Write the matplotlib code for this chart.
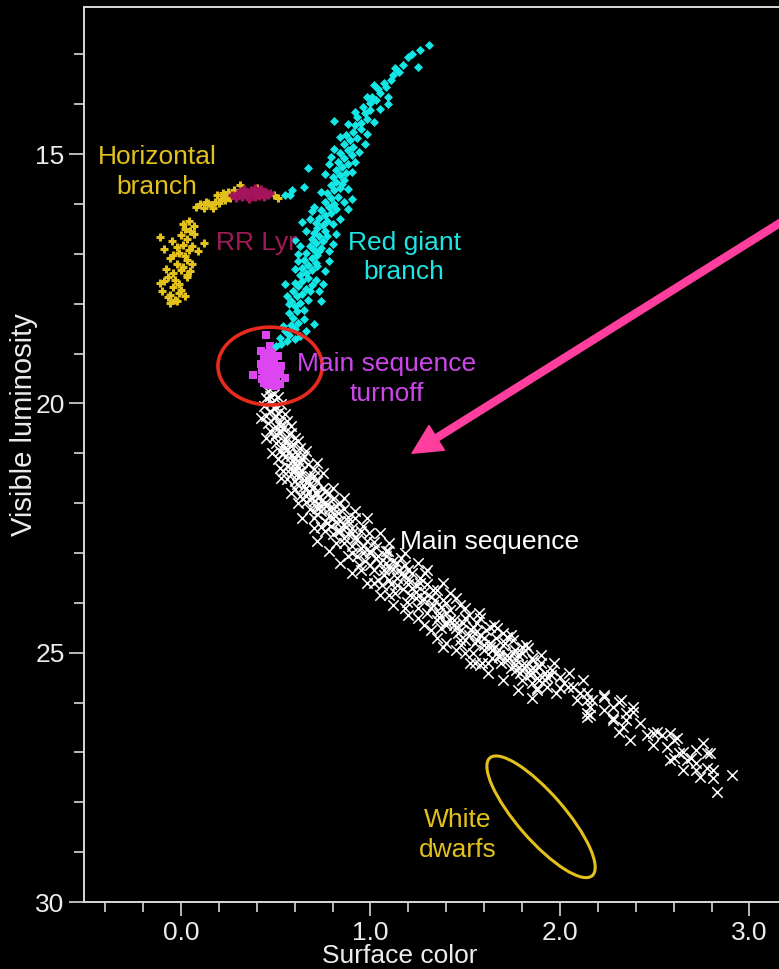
import numpy as np
import matplotlib
matplotlib.use("Agg")
import matplotlib.pyplot as plt
from matplotlib.patches import Ellipse, FancyArrowPatch, ArrowStyle
import matplotlib.transforms as mtransforms

# ---------------- data: (surface color, visible magnitude) ----------------
main_sequence = [
    (0.46, 19.75), (0.49, 19.82), (0.45, 19.90), (0.51, 19.88), (0.48, 19.98), (0.44, 20.05),
    (0.50, 20.08), (0.53, 20.02), (0.47, 20.15), (0.51, 20.20), (0.45, 20.25), (0.55, 20.22),
    (0.49, 20.30), (0.52, 20.38), (0.46, 20.40), (0.56, 20.35), (0.50, 20.48), (0.54, 20.50),
    (0.47, 20.55), (0.58, 20.45),
    (0.52, 20.60), (0.57, 20.62), (0.49, 20.68), (0.55, 20.72), (0.60, 20.70), (0.50, 20.80),
    (0.54, 20.85), (0.59, 20.82), (0.63, 20.90), (0.52, 20.95), (0.57, 20.98), (0.61, 21.02),
    (0.55, 21.08), (0.65, 21.05), (0.51, 21.12), (0.59, 21.15), (0.63, 21.20), (0.56, 21.25),
    (0.67, 21.22), (0.60, 21.30), (0.54, 21.35), (0.64, 21.35), (0.70, 21.32), (0.58, 21.42),
    (0.62, 21.48), (0.68, 21.45), (0.56, 21.52), (0.66, 21.58), (0.72, 21.55), (0.61, 21.62),
    (0.65, 21.65), (0.70, 21.68), (0.60, 21.72), (0.75, 21.70), (0.67, 21.78), (0.63, 21.85),
    (0.72, 21.82), (0.78, 21.80), (0.69, 21.90), (0.74, 21.95), (0.66, 21.98), (0.80, 21.92),
    (0.71, 22.05), (0.77, 22.02), (0.84, 22.00), (0.68, 22.12), (0.74, 22.15), (0.80, 22.10),
    (0.86, 22.12), (0.72, 22.22), (0.78, 22.25), (0.83, 22.20), (0.70, 22.30), (0.88, 22.28),
    (0.76, 22.35), (0.82, 22.38), (0.92, 22.30), (0.79, 22.45), (0.86, 22.42), (0.74, 22.48),
    (0.90, 22.50), (0.83, 22.55), (0.96, 22.45), (0.80, 22.62), (0.88, 22.62),
    (0.86, 22.80), (0.92, 22.70), (0.95, 22.90), (0.90, 23.00), (0.98, 22.75), (1.00, 23.00),
    (0.97, 23.15), (1.03, 22.88), (1.05, 23.20), (1.02, 23.35), (1.08, 23.05), (1.10, 23.30),
    (1.07, 23.45), (1.12, 23.15), (1.14, 23.50), (1.15, 23.35), (1.11, 23.62), (1.18, 23.25),
    (1.20, 23.55), (1.17, 23.72), (1.22, 23.40), (1.24, 23.65), (1.21, 23.85), (1.26, 23.50),
    (1.28, 23.78), (1.27, 23.95), (1.30, 23.62), (1.32, 23.88), (1.25, 24.10), (1.33, 24.05),
    (0.94, 23.25), (1.04, 23.55), (0.99, 22.60), (1.09, 22.95), (1.16, 23.10), (1.13, 23.80),
    (1.19, 23.98), (1.06, 23.65), (1.29, 23.40), (1.35, 23.75),
    (1.36, 24.20), (1.38, 23.95), (1.40, 24.45), (1.42, 24.15), (1.44, 24.35), (1.46, 24.60),
    (1.47, 24.05), (1.49, 24.40), (1.50, 24.75), (1.52, 24.25), (1.53, 24.55), (1.55, 24.80),
    (1.56, 24.40), (1.58, 24.65), (1.60, 24.95), (1.61, 24.55), (1.63, 24.80), (1.64, 25.10),
    (1.66, 24.70), (1.68, 24.95), (1.69, 25.20), (1.71, 24.80), (1.72, 25.05), (1.74, 25.30),
    (1.76, 24.95), (1.77, 25.15), (1.79, 25.40), (1.80, 25.00), (1.82, 25.25), (1.84, 25.45),
    (1.85, 25.10), (1.87, 25.35), (1.89, 25.55), (1.90, 25.20), (1.92, 25.40), (1.37, 24.50),
    (1.45, 23.90), (1.57, 24.20), (1.62, 25.20), (1.67, 24.50), (1.75, 24.75), (1.83, 24.90),
    (1.88, 25.70), (1.48, 24.85), (1.54, 25.00),
    (1.37, 24.08), (1.38, 24.89), (1.42, 24.35), (1.47, 24.75), (1.525, 25.21), (1.54, 24.49),
    (1.59, 25.21), (1.63, 24.49), (1.63, 24.89), (1.68, 25.09), (1.70, 24.61), (1.72, 24.69),
    (1.75, 25.01), (1.77, 25.35), (1.80, 24.89), (1.80, 25.55), (1.84, 25.35), (1.86, 25.15),
    (1.88, 25.75), (1.89, 25.29), (1.93, 25.49), (1.93, 25.69), (1.96, 25.35), (1.98, 25.81),
    (2.00, 25.49), (2.02, 25.61), (2.04, 25.69), (2.07, 25.69), (2.09, 25.95), (2.105, 25.81),
    (2.14, 25.95), (2.14, 26.21), (2.14, 26.29), (2.14, 25.81), (2.16, 26.09), (2.16, 26.25),
    (2.17, 25.95), (2.23, 25.89), (2.23, 26.15), (2.23, 25.85), (2.28, 26.09), (2.28, 26.31),
    (2.28, 26.35), (2.31, 25.99), (2.31, 26.59), (2.32, 25.95), (2.33, 26.49), (2.35, 26.21),
    (2.35, 26.35), (2.37, 26.75), (2.385, 26.09), (2.385, 26.19), (2.42, 26.41), (2.46, 26.65),
    (2.49, 26.61), (2.49, 26.85), (2.51, 26.59), (2.54, 26.65), (2.565, 26.89), (2.58, 26.61),
    (2.58, 27.15), (2.60, 26.75), (2.60, 27.11), (2.62, 26.71), (2.63, 27.01), (2.65, 26.99),
    (2.65, 27.35), (2.67, 27.15), (2.69, 27.11), (2.72, 26.95), (2.72, 27.21), (2.72, 27.35),
    (2.74, 27.49), (2.755, 26.81), (2.775, 27.01), (2.775, 27.31), (2.79, 27.01), (2.81, 27.35),
    (2.81, 27.51), (2.83, 27.79), (2.91, 27.45),
    (0.42, 20.30), (0.58, 20.60), (0.45, 20.70), (0.62, 20.75), (0.48, 21.00), (0.66, 20.95),
    (0.52, 21.30), (0.72, 21.20), (0.53, 21.50), (0.75, 21.40), (0.58, 21.80), (0.80, 21.70),
    (0.62, 22.00), (0.86, 21.90), (0.64, 22.30), (0.92, 22.15), (0.70, 22.50), (0.98, 22.30),
    (0.72, 22.75), (1.05, 22.60), (0.78, 22.95), (1.10, 22.80), (0.84, 23.20), (1.18, 23.00),
    (0.90, 23.40), (1.25, 23.20), (0.98, 23.60), (1.30, 23.35), (1.05, 23.85), (1.38, 23.60),
    (1.12, 24.05), (1.42, 23.80), (1.20, 24.25), (1.50, 24.10), (1.28, 24.45), (1.58, 24.30),
    (1.35, 24.70), (1.65, 24.45), (1.45, 24.95), (1.74, 24.65), (1.55, 25.20), (1.82, 24.85),
    (1.62, 25.40), (1.90, 25.05), (1.70, 25.55), (1.97, 25.20), (1.78, 25.75), (2.05, 25.40),
    (1.85, 25.90), (2.12, 25.55),
    (0.50, 20.62), (0.55, 20.90), (0.60, 21.10), (0.62, 21.40), (0.66, 21.70), (0.70, 21.95),
    (0.74, 22.05), (0.77, 22.40), (0.80, 22.30), (0.84, 22.55), (0.86, 22.70), (0.90, 22.85),
    (0.93, 23.05), (0.96, 23.00), (1.00, 23.25), (1.03, 23.10), (1.07, 23.35), (1.10, 23.55),
    (1.14, 23.65), (1.18, 23.45), (1.22, 23.70), (1.24, 23.90), (1.30, 24.20), (1.34, 23.95),
    (1.40, 24.20), (1.35, 24.35), (1.45, 24.50), (1.50, 24.30), (1.55, 24.60), (1.60, 24.70),
    (1.65, 24.90), (1.70, 24.85), (1.73, 25.10), (1.78, 25.05), (1.80, 25.25), (1.86, 25.30),
    (1.92, 25.55), (1.95, 25.45), (2.00, 25.70), (1.85, 25.60),
    (0.47, 19.85), (0.49, 20.10), (0.50, 20.25), (0.52, 20.45), (0.53, 20.55), (0.55, 20.78),
    (0.56, 20.92), (0.58, 21.05), (0.60, 21.20), (0.62, 21.30), (0.63, 21.45), (0.66, 21.50),
    (0.68, 21.62), (0.71, 21.78), (0.73, 21.88), (0.76, 22.00), (0.78, 22.12), (0.81, 22.22),
    (0.84, 22.35), (0.87, 22.48), (0.90, 22.60), (0.93, 22.72), (0.96, 22.85), (1.00, 22.95),
    (1.04, 23.05), (1.08, 23.20), (1.12, 23.32), (1.16, 23.42), (1.20, 23.62), (1.24, 23.78),
    (1.28, 23.92), (1.32, 24.10), (1.36, 24.28), (1.40, 24.38), (1.44, 24.45), (1.48, 24.55),
    (1.52, 24.65), (1.56, 24.75), (1.60, 24.85), (1.64, 24.95), (1.68, 25.05), (1.72, 25.15),
    (1.76, 25.25), (1.80, 25.35), (1.84, 25.42), (1.88, 25.50), (0.58, 20.85), (0.64, 21.12),
    (0.70, 21.45), (0.76, 21.78), (0.82, 22.05), (0.88, 22.35), (0.95, 22.55), (1.02, 22.78),
    (1.08, 22.95), (1.14, 23.20), (1.20, 23.35), (1.26, 23.60), (1.33, 23.75), (1.40, 24.00),
    (0.54, 21.00), (0.58, 21.30), (0.60, 21.55), (0.66, 21.85), (0.72, 22.10), (0.76, 22.55),
    (0.82, 22.80), (0.88, 23.05), (0.95, 23.35), (1.02, 23.60), (1.10, 23.85), (1.18, 24.10),
    (1.25, 24.30), (1.32, 24.55), (1.40, 24.80), (1.50, 25.00), (1.58, 25.25),
]

turnoff = [
    (0.45, 18.62), (0.42, 18.95), (0.47, 18.85), (0.44, 19.10), (0.47, 19.05), (0.49, 19.20),
    (0.45, 19.30), (0.48, 19.35), (0.50, 19.45), (0.43, 19.50), (0.46, 19.50), (0.49, 19.55),
    (0.52, 19.40), (0.55, 19.48), (0.38, 19.42), (0.51, 19.05), (0.53, 19.25), (0.46, 19.62),
    (0.50, 19.65), (0.44, 19.40), (0.48, 18.95), (0.42, 19.20), (0.47, 19.58), (0.52, 19.60),
    (0.46, 19.15), (0.49, 19.42), (0.44, 19.58), (0.47, 19.45), (0.45, 19.22), (0.48, 19.10),
    (0.43, 19.32), (0.50, 19.30), (0.46, 18.98), (0.49, 19.62), (0.45, 19.45), (0.48, 19.50),
]

red_giant_branch = [
    (0.50, 18.85), (0.53, 18.80), (0.56, 18.75), (0.60, 18.70), (0.52, 18.68), (0.57, 18.62),
    (0.63, 18.65), (0.55, 18.55), (0.60, 18.50), (0.66, 18.55), (0.58, 18.42), (0.62, 18.38),
    (0.54, 18.45), (0.65, 18.30), (0.59, 18.28), (0.70, 18.40),
    (0.57, 18.18), (0.61, 18.15), (0.65, 18.12), (0.60, 18.05), (0.63, 17.98), (0.58, 17.95),
    (0.67, 17.92), (0.61, 17.85), (0.64, 17.80), (0.59, 17.75), (0.66, 17.70), (0.62, 17.65),
    (0.69, 17.62), (0.60, 17.58), (0.64, 17.55), (0.67, 17.48), (0.71, 17.52), (0.56, 17.85),
    (0.73, 17.75),
    (0.63, 17.42), (0.66, 17.38), (0.69, 17.32), (0.64, 17.28), (0.67, 17.22), (0.71, 17.18),
    (0.65, 17.12), (0.69, 17.08), (0.72, 17.02), (0.66, 16.98), (0.70, 16.92), (0.74, 16.88),
    (0.68, 16.85), (0.71, 16.78), (0.75, 16.75), (0.69, 16.70), (0.73, 16.65), (0.70, 16.58),
    (0.76, 16.55), (0.62, 17.00), (0.78, 16.95), (0.60, 16.72),
    (0.72, 16.48), (0.75, 16.42), (0.71, 16.38), (0.77, 16.35), (0.73, 16.28), (0.76, 16.22),
    (0.79, 16.18), (0.74, 16.12), (0.78, 16.05), (0.81, 16.00), (0.76, 15.95), (0.79, 15.88),
    (0.83, 15.85), (0.77, 15.78), (0.81, 15.72), (0.84, 15.68), (0.79, 15.62), (0.82, 15.55),
    (0.86, 15.52), (0.69, 16.15), (0.64, 16.36), (0.65, 15.66), (0.67, 15.28), (0.575, 15.82),
    (0.55, 15.82), (0.585, 15.72), (0.88, 16.10), (0.90, 15.90),
    (0.80, 15.45), (0.84, 15.42), (0.87, 15.38), (0.82, 15.32), (0.85, 15.25), (0.88, 15.20),
    (0.83, 15.15), (0.86, 15.08), (0.90, 15.02), (0.84, 14.98), (0.88, 14.92), (0.91, 14.85),
    (0.86, 14.80), (0.89, 14.72), (0.93, 14.68), (0.87, 14.62), (0.91, 14.55), (0.95, 14.50),
    (0.97, 14.80), (0.79, 15.05),
    (0.92, 14.42), (0.95, 14.38), (0.98, 14.30), (0.93, 14.25), (0.97, 14.18), (1.00, 14.12),
    (0.96, 14.05), (1.00, 13.98), (1.03, 13.92), (1.01, 13.85), (1.05, 13.78), (1.04, 13.70),
    (1.08, 13.65), (1.07, 13.58), (1.11, 13.52), (1.09, 14.00), (0.81, 14.34),
    (1.12, 13.42), (1.15, 13.35), (1.13, 13.28), (1.17, 13.22), (1.20, 13.05), (1.22, 13.00),
    (1.26, 12.92), (1.31, 12.82), (1.25, 13.25),
    (0.57, 18.00), (0.74, 17.95), (0.55, 17.60), (0.75, 17.60), (0.60, 17.30), (0.76, 17.35),
    (0.62, 17.15), (0.78, 17.15), (0.63, 16.85), (0.80, 16.80), (0.66, 16.55), (0.82, 16.60),
    (0.68, 16.30), (0.84, 16.30), (0.70, 16.05), (0.86, 15.95), (0.74, 15.75), (0.88, 15.70),
    (0.76, 15.40), (0.90, 15.35), (0.78, 15.20), (0.92, 15.15), (0.81, 14.90), (0.94, 14.95),
    (0.84, 14.65), (0.98, 14.60), (0.88, 14.40), (1.02, 14.35), (0.92, 14.15), (1.05, 14.10),
    (0.98, 13.85), (1.09, 13.85), (1.02, 13.62), (0.68, 17.75), (0.72, 17.25), (0.73, 16.95),
    (0.77, 16.65), (0.80, 16.40), (0.82, 16.10), (0.85, 15.60),
]

horizontal_branch = [
    (0.08, 16.05), (0.10, 16.00), (0.12, 16.08), (0.14, 15.98), (0.16, 16.02), (0.18, 15.95),
    (0.20, 15.98), (0.21, 15.90), (0.23, 15.92), (0.24, 15.85), (0.26, 15.88), (0.27, 15.80),
    (0.19, 15.82), (0.22, 15.78), (0.25, 15.75), (0.28, 15.72), (0.31, 15.62), (0.40, 15.68),
    (0.49, 15.82), (0.51, 15.88), (0.13, 15.95), (0.17, 16.08),
    (0.04, 16.35), (0.07, 16.45), (0.02, 16.50), (0.05, 16.55), (-0.11, 16.66), (0.00, 16.62),
    (0.03, 16.70), (0.12, 16.78), (-0.02, 16.86), (0.01, 16.82), (0.04, 16.92), (-0.01, 16.98),
    (-0.04, 17.02), (0.02, 17.05), (-0.06, 17.08), (0.03, 17.13), (-0.02, 17.20), (0.01, 17.26),
    (0.00, 17.33), (-0.04, 17.38), (0.03, 17.42), (-0.07, 17.47), (0.03, 17.47), (-0.03, 17.52),
    (-0.11, 17.59), (-0.01, 17.60), (-0.04, 17.67), (0.00, 17.72), (-0.01, 17.79), (-0.06, 17.82),
    (-0.07, 17.87), (-0.03, 17.92), (-0.06, 17.99), (-0.02, 17.95), (0.06, 17.20), (-0.08, 17.30),
    (-0.09, 16.90), (0.07, 16.60), (-0.05, 16.75), (0.09, 16.95), (0.05, 17.35), (-0.09, 17.55),
    (0.02, 17.85), (-0.10, 17.75), (0.01, 16.40), (0.06, 16.85),
]

rr_lyrae = [
    (0.27, 15.82), (0.30, 15.78), (0.32, 15.85), (0.34, 15.75), (0.35, 15.82), (0.37, 15.72),
    (0.38, 15.80), (0.40, 15.76), (0.41, 15.84), (0.43, 15.78), (0.45, 15.75), (0.46, 15.82),
    (0.33, 15.70), (0.36, 15.90), (0.39, 15.68), (0.42, 15.70), (0.29, 15.88), (0.44, 15.86),
    (0.31, 15.74), (0.47, 15.78), (0.36, 15.78), (0.39, 15.86),
]

# region labels: text, (color, magnitude), colour
region_labels = [
    ("Horizontal\nbranch", (-0.127, 15.36), "#e3c11c"),
    ("RR Lyr", (0.396, 16.78), "#a01a58"),
    ("Red giant\nbranch", (1.177, 17.07), "#1ee4e4"),
    ("Main sequence\nturnoff", (1.087, 19.51), "#cc46ea"),
    ("Main sequence", (1.63, 22.78), "#ffffff"),
    ("White\ndwarfs", (1.462, 28.66), "#e3c11c"),
]

x_major = [0.0, 1.0, 2.0, 3.0]
y_major = [15, 20, 25, 30]

# ---------------- figure ----------------
plt.rcParams["font.family"] = ["Liberation Sans", "DejaVu Sans"]

fig = plt.figure(figsize=(7.79, 9.69), dpi=100, facecolor="black")
ax = fig.add_axes([0.1078, 0.0691, 0.9273, 0.9236], facecolor="black")

ms = np.array(main_sequence)
to = np.array(turnoff)
rgb = np.array(red_giant_branch)
hb = np.array(horizontal_branch)
rr = np.array(rr_lyrae)

ax.scatter(ms[:, 0], ms[:, 1], marker="x", s=7.5 ** 2, c="white", linewidths=1.1, zorder=2)
ax.scatter(to[:, 0], to[:, 1], marker="s", s=5.5 ** 2, c="#dc45f0", linewidths=0, zorder=3)
ax.scatter(rgb[:, 0], rgb[:, 1], marker="D", s=4.6 ** 2, c="#14e6e6", linewidths=0, zorder=4)
ax.scatter(hb[:, 0], hb[:, 1], marker="+", s=6.0 ** 2, c="#e3c11c", linewidths=2.2, zorder=3)
ax.scatter(rr[:, 0], rr[:, 1], marker="+", s=6.0 ** 2, c="#a3145c", linewidths=2.4, zorder=4)

for text, (x, y), col in region_labels:
    ax.text(x, y, text, color=col, fontsize=19, ha="center", va="center",
            linespacing=1.3, zorder=6)

# circle around the turnoff
ax.add_patch(Ellipse((0.47, 19.25), 0.55, 1.56, fill=False, edgecolor="#e62a1f",
                     linewidth=2.6, zorder=5))

# white dwarf region, sized in screen inches so its tilt is independent of axis scales
wd_trans = fig.dpi_scale_trans + mtransforms.ScaledTranslation(1.90, 28.29, ax.transData)
ax.add_patch(Ellipse((0, 0), 1.56, 0.47, angle=-49, fill=False, edgecolor="#e3c11c",
                     linewidth=2.2, transform=wd_trans, zorder=5))

# pointer arrow
ax.add_patch(FancyArrowPatch((3.27, 16.12), (1.219, 21.0),
                             arrowstyle=ArrowStyle.Simple(head_length=21, head_width=21, tail_width=5),
                             mutation_scale=1, color="#ff3e9e", shrinkA=0, shrinkB=0, zorder=6))

# ---------------- axes ----------------
ax.set_xlim(-0.512, 3.3)
ax.set_ylim(30, 12.05)

ax.set_xticks(x_major)
ax.set_xticklabels([f"{v:.1f}" for v in x_major])
ax.set_xticks(np.arange(-0.4, 3.25, 0.2), minor=True)
ax.set_yticks(y_major)
ax.set_yticklabels([str(v) for v in y_major])
ax.set_yticks(np.arange(13, 30, 1), minor=True)

for side in ("left", "top", "bottom", "right"):
    ax.spines[side].set_color("#d8d8d8")
    ax.spines[side].set_linewidth(1.4)

ax.tick_params(axis="both", which="both", direction="out", color="#d8d8d8", width=1.2,
               labelcolor="#ececec")
ax.tick_params(axis="x", which="major", length=10, pad=4, labelsize=19)
ax.tick_params(axis="x", which="minor", length=7)
ax.tick_params(axis="y", which="major", length=11, pad=3, labelsize=19)
ax.tick_params(axis="y", which="minor", length=7.5)

ax.set_xlabel("Surface color", color="#ececec", fontsize=19)
ax.set_ylabel("Visible luminosity", color="#ececec", fontsize=21)
ax.xaxis.set_label_coords((400 - 84) / 722.0, -0.047)
ax.yaxis.set_label_coords(-0.064, (902 - 425) / 895.0)

fig.savefig("out.png", dpi=100, facecolor="black")
